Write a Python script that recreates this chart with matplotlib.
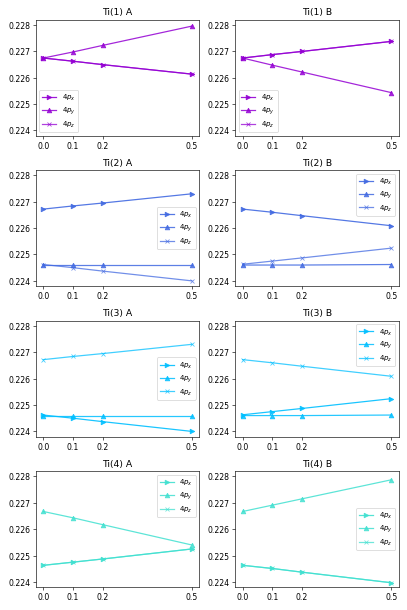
import matplotlib
matplotlib.use("Agg")
import matplotlib.pyplot as plt

# displacement values
x = [0.0, 0.1, 0.2, 0.5]

titles = ["Ti(1) A", "Ti(1) B", "Ti(2) A", "Ti(2) B",
          "Ti(3) A", "Ti(3) B", "Ti(4) A", "Ti(4) B"]
colors = ["darkviolet", "royalblue", "deepskyblue", "turquoise"]

# 4p occupations per site
px = [
    [0.22674, 0.22662, 0.22649, 0.22613],
    [0.22674, 0.22687, 0.22699, 0.22737],
    [0.22672, 0.22684, 0.22695, 0.22730],
    [0.22672, 0.22660, 0.22647, 0.22609],
    [0.22462, 0.22450, 0.22437, 0.22400],
    [0.22463, 0.22475, 0.22487, 0.22524],
    [0.22463, 0.22475, 0.22487, 0.22525],
    [0.22463, 0.22451, 0.22437, 0.22397],
]
py = [
    [0.22674, 0.22697, 0.22722, 0.22795],
    [0.22674, 0.22647, 0.22621, 0.22543],
    [0.22460, 0.22460, 0.22460, 0.22460],
    [0.22460, 0.22460, 0.22460, 0.22462],
    [0.22460, 0.22460, 0.22460, 0.22460],
    [0.22460, 0.22460, 0.22460, 0.22462],
    [0.22667, 0.22643, 0.22617, 0.22540],
    [0.22667, 0.22691, 0.22715, 0.22787],
]
pz = [
    [0.22674, 0.22662, 0.22649, 0.22613],
    [0.22674, 0.22687, 0.22699, 0.22737],
    [0.22462, 0.22450, 0.22437, 0.22400],
    [0.22463, 0.22475, 0.22487, 0.22524],
    [0.22672, 0.22684, 0.22695, 0.22730],
    [0.22672, 0.22660, 0.22647, 0.22609],
    [0.22463, 0.22475, 0.22487, 0.22525],
    [0.22463, 0.22451, 0.22437, 0.22397],
]
legend_locs = ["lower left", "lower left", "center right", "upper right",
               "center right", "upper right", "upper right", "center right"]

fig, axes = plt.subplots(4, 2, figsize=(7.3, 10.95), dpi=407 / 7.3)
for i, ax in enumerate(axes.flat):
    c = colors[i // 2]
    ax.plot(x, px[i], marker=">", color=c, alpha=0.9, lw=1.6, ms=6, label="$4p_x$")
    ax.plot(x, py[i], marker="^", color=c, alpha=0.85, lw=1.6, ms=6, label="$4p_y$")
    ax.plot(x, pz[i], marker="x", color=c, alpha=0.75, lw=1.6, ms=6, label="$4p_z$")
    ax.set_title(titles[i])
    ax.set_xticks(x)
    ax.set_ylim(0.2238, 0.2282)
    ax.set_yticks([0.224, 0.225, 0.226, 0.227, 0.228])
    ax.legend(loc=legend_locs[i], fontsize=9, labelspacing=0.35)

plt.tight_layout()
plt.savefig("out.png")
